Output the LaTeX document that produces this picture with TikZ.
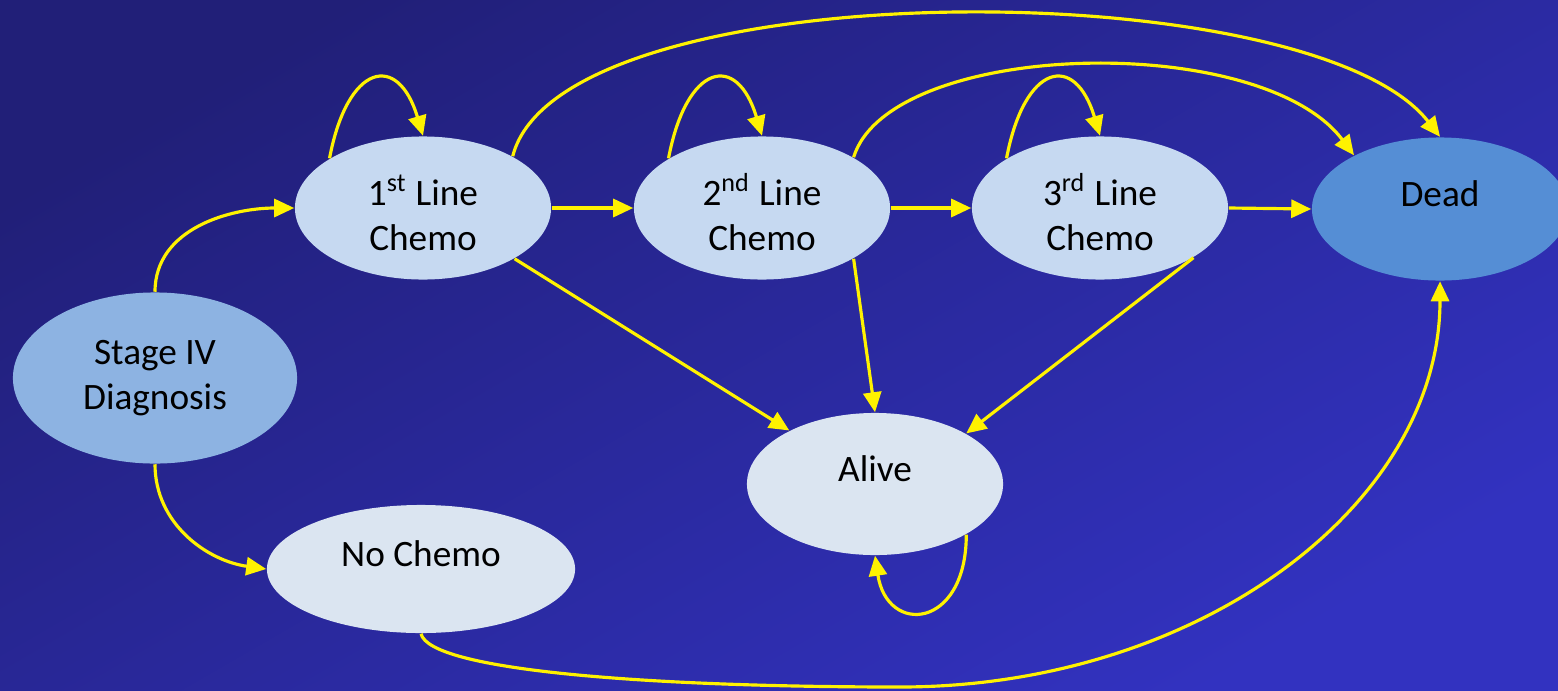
\documentclass[tikz,border=0pt]{standalone}
\usepackage{fontspec}
\setmainfont{Carlito}
\usepackage{tikz}
\usetikzlibrary{arrows.meta,shapes.geometric,positioning}
\definecolor{fondoA}{RGB}{33,31,120}
\definecolor{fondoB}{RGB}{50,50,192}
\definecolor{diagc}{HTML}{8DB3E2}
\definecolor{chemoc}{HTML}{C6D9F1}
\definecolor{palec}{HTML}{DBE5F1}
\definecolor{deadc}{HTML}{558ED5}
\tikzset{
  stnode/.style={ellipse,inner sep=0pt,minimum width=2.56cm,minimum height=1.43cm,
    font=\fontsize{10.6}{12.8}\selectfont,text=black},
  uptext/.style={text depth=0.3cm},
  linetext/.style={align=center,text height=0.86cm},
  link/.style={draw=yellow,line width=0.9pt,-{Triangle[length=0.2cm,width=0.18cm]}}
}

\begin{document}
\begin{tikzpicture}[x=0.01cm,y=0.01cm]
\useasboundingbox (0,0) rectangle (1558,690);
\clip (0,0) rectangle (1558,690);
\shade[top color=fondoA,bottom color=fondoB,shading angle=30] (-10,-10) rectangle (1568,700);
% estados
\node[stnode,fill=diagc,minimum width=2.84cm,minimum height=1.71cm,align=center] (stage) at (155,312) {Stage IV\\Diagnosis};
\node[stnode,fill=chemoc,linetext] (first) at (423,482) {1\textsuperscript{st} Line\\Chemo};
\node[stnode,fill=chemoc,linetext] (second) at (762,482) {2\textsuperscript{nd} Line\\Chemo};
\node[stnode,fill=chemoc,linetext] (third) at (1100,482) {3\textsuperscript{rd} Line\\Chemo};
\node[stnode,fill=deadc,uptext] (dead) at (1440,481) {Dead};
\node[stnode,fill=palec,uptext,minimum height=1.42cm] (alive) at (875,206) {Alive};
\node[stnode,fill=palec,uptext,minimum width=3.08cm,minimum height=1.28cm] (nochemo) at (421,121) {No Chemo};
% transiciones
\draw[link] (stage.north) to[out=90,in=180] (first.west);
\draw[link] (stage.south) to[out=-90,in=172] (nochemo.west);
\foreach \n in {first,second,third}
  \draw[link] (\n.152) .. controls +(18,95) and +(-25,84) .. (\n.north);
\draw[link] (first.east) -- (second.west);
\draw[link] (second.east) -- (third.west);
\draw[link] (third.east) -- (dead.west);
\draw[link] (first.-29) -- (alive.148);
\draw[link] (second.-29) -- (alive.north);
\draw[link] (third.-28) -- (alive.29);
\draw[link] (alive.-29) .. controls +(0,-95) and +(12,-80) .. (alive.south);
% arcos largos hacia Dead
\draw[link] (first.30) .. controls (560,720) and (1310,720) .. (dead.north);
\draw[link] (second.29) .. controls (890,650) and (1260,660) .. (dead.148);
\coordinate (fondo) at (900,3);
\draw[link] (nochemo.south) .. controls +(9,-37) and +(-250,0) .. (fondo)
  .. controls +(298,0) and +(0,-224) .. (dead.south);
\end{tikzpicture}
\end{document}
